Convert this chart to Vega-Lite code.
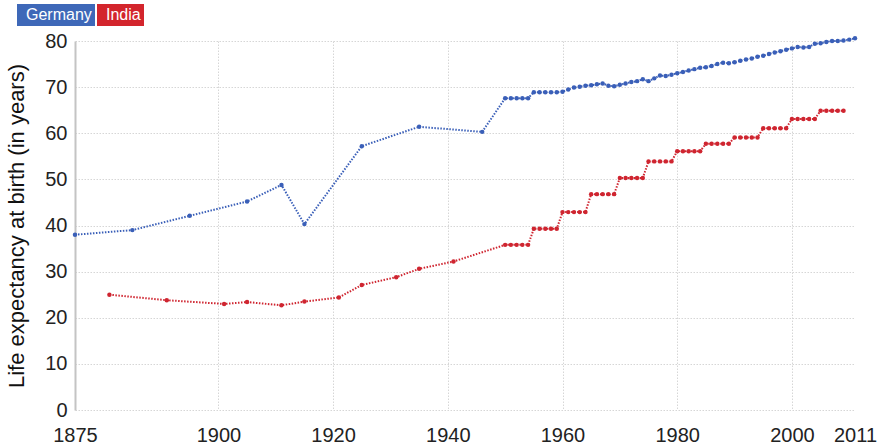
{
  "$schema": "https://vega.github.io/schema/vega-lite/v6.json",
  "width": 780,
  "height": 369,
  "autosize": {"type": "none"},
  "padding": {"left": 75, "top": 41, "right": 32, "bottom": 36},
  "background": "white",
  "config": {
    "view": {"stroke": null},
    "font": "Liberation Sans"
  },
  "data": {
    "values": [
      {"country": "Germany", "year": 1875, "le": 38.0},
      {"country": "Germany", "year": 1885, "le": 39.0},
      {"country": "Germany", "year": 1895, "le": 42.1},
      {"country": "Germany", "year": 1905, "le": 45.2},
      {"country": "Germany", "year": 1911, "le": 48.8},
      {"country": "Germany", "year": 1915, "le": 40.3},
      {"country": "Germany", "year": 1925, "le": 57.2},
      {"country": "Germany", "year": 1935, "le": 61.4},
      {"country": "Germany", "year": 1946, "le": 60.3},
      {"country": "Germany", "year": 1950, "le": 67.6},
      {"country": "Germany", "year": 1951, "le": 67.6},
      {"country": "Germany", "year": 1952, "le": 67.6},
      {"country": "Germany", "year": 1953, "le": 67.6},
      {"country": "Germany", "year": 1954, "le": 67.6},
      {"country": "Germany", "year": 1955, "le": 68.9},
      {"country": "Germany", "year": 1956, "le": 68.9},
      {"country": "Germany", "year": 1957, "le": 68.9},
      {"country": "Germany", "year": 1958, "le": 68.9},
      {"country": "Germany", "year": 1959, "le": 68.9},
      {"country": "Germany", "year": 1960, "le": 69.0},
      {"country": "Germany", "year": 1961, "le": 69.5},
      {"country": "Germany", "year": 1962, "le": 69.9},
      {"country": "Germany", "year": 1963, "le": 70.1},
      {"country": "Germany", "year": 1964, "le": 70.3},
      {"country": "Germany", "year": 1965, "le": 70.4},
      {"country": "Germany", "year": 1966, "le": 70.6},
      {"country": "Germany", "year": 1967, "le": 70.8},
      {"country": "Germany", "year": 1968, "le": 70.3},
      {"country": "Germany", "year": 1969, "le": 70.2},
      {"country": "Germany", "year": 1970, "le": 70.5},
      {"country": "Germany", "year": 1971, "le": 70.8},
      {"country": "Germany", "year": 1972, "le": 71.1},
      {"country": "Germany", "year": 1973, "le": 71.3},
      {"country": "Germany", "year": 1974, "le": 71.7},
      {"country": "Germany", "year": 1975, "le": 71.3},
      {"country": "Germany", "year": 1976, "le": 71.9},
      {"country": "Germany", "year": 1977, "le": 72.5},
      {"country": "Germany", "year": 1978, "le": 72.4},
      {"country": "Germany", "year": 1979, "le": 72.7},
      {"country": "Germany", "year": 1980, "le": 73.0},
      {"country": "Germany", "year": 1981, "le": 73.3},
      {"country": "Germany", "year": 1982, "le": 73.6},
      {"country": "Germany", "year": 1983, "le": 73.9},
      {"country": "Germany", "year": 1984, "le": 74.2},
      {"country": "Germany", "year": 1985, "le": 74.3},
      {"country": "Germany", "year": 1986, "le": 74.6},
      {"country": "Germany", "year": 1987, "le": 75.0},
      {"country": "Germany", "year": 1988, "le": 75.3},
      {"country": "Germany", "year": 1989, "le": 75.2},
      {"country": "Germany", "year": 1990, "le": 75.4},
      {"country": "Germany", "year": 1991, "le": 75.7},
      {"country": "Germany", "year": 1992, "le": 76.0},
      {"country": "Germany", "year": 1993, "le": 76.2},
      {"country": "Germany", "year": 1994, "le": 76.6},
      {"country": "Germany", "year": 1995, "le": 76.8},
      {"country": "Germany", "year": 1996, "le": 77.2},
      {"country": "Germany", "year": 1997, "le": 77.5},
      {"country": "Germany", "year": 1998, "le": 77.8},
      {"country": "Germany", "year": 1999, "le": 78.1},
      {"country": "Germany", "year": 2000, "le": 78.4},
      {"country": "Germany", "year": 2001, "le": 78.7},
      {"country": "Germany", "year": 2002, "le": 78.6},
      {"country": "Germany", "year": 2003, "le": 78.7},
      {"country": "Germany", "year": 2004, "le": 79.4},
      {"country": "Germany", "year": 2005, "le": 79.5},
      {"country": "Germany", "year": 2006, "le": 79.8},
      {"country": "Germany", "year": 2007, "le": 80.0},
      {"country": "Germany", "year": 2008, "le": 80.0},
      {"country": "Germany", "year": 2009, "le": 80.1},
      {"country": "Germany", "year": 2010, "le": 80.3},
      {"country": "Germany", "year": 2011, "le": 80.6},
      {"country": "India", "year": 1881, "le": 25.0},
      {"country": "India", "year": 1891, "le": 23.8},
      {"country": "India", "year": 1901, "le": 23.0},
      {"country": "India", "year": 1905, "le": 23.4},
      {"country": "India", "year": 1911, "le": 22.7},
      {"country": "India", "year": 1915, "le": 23.5},
      {"country": "India", "year": 1921, "le": 24.4},
      {"country": "India", "year": 1925, "le": 27.1},
      {"country": "India", "year": 1931, "le": 28.8},
      {"country": "India", "year": 1935, "le": 30.6},
      {"country": "India", "year": 1941, "le": 32.2},
      {"country": "India", "year": 1950, "le": 35.8},
      {"country": "India", "year": 1951, "le": 35.8},
      {"country": "India", "year": 1952, "le": 35.8},
      {"country": "India", "year": 1953, "le": 35.8},
      {"country": "India", "year": 1954, "le": 35.8},
      {"country": "India", "year": 1955, "le": 39.3},
      {"country": "India", "year": 1956, "le": 39.3},
      {"country": "India", "year": 1957, "le": 39.3},
      {"country": "India", "year": 1958, "le": 39.3},
      {"country": "India", "year": 1959, "le": 39.3},
      {"country": "India", "year": 1960, "le": 42.9},
      {"country": "India", "year": 1961, "le": 42.9},
      {"country": "India", "year": 1962, "le": 42.9},
      {"country": "India", "year": 1963, "le": 42.9},
      {"country": "India", "year": 1964, "le": 42.9},
      {"country": "India", "year": 1965, "le": 46.8},
      {"country": "India", "year": 1966, "le": 46.8},
      {"country": "India", "year": 1967, "le": 46.8},
      {"country": "India", "year": 1968, "le": 46.8},
      {"country": "India", "year": 1969, "le": 46.8},
      {"country": "India", "year": 1970, "le": 50.3},
      {"country": "India", "year": 1971, "le": 50.3},
      {"country": "India", "year": 1972, "le": 50.3},
      {"country": "India", "year": 1973, "le": 50.3},
      {"country": "India", "year": 1974, "le": 50.3},
      {"country": "India", "year": 1975, "le": 53.9},
      {"country": "India", "year": 1976, "le": 53.9},
      {"country": "India", "year": 1977, "le": 53.9},
      {"country": "India", "year": 1978, "le": 53.9},
      {"country": "India", "year": 1979, "le": 53.9},
      {"country": "India", "year": 1980, "le": 56.1},
      {"country": "India", "year": 1981, "le": 56.1},
      {"country": "India", "year": 1982, "le": 56.1},
      {"country": "India", "year": 1983, "le": 56.1},
      {"country": "India", "year": 1984, "le": 56.1},
      {"country": "India", "year": 1985, "le": 57.7},
      {"country": "India", "year": 1986, "le": 57.7},
      {"country": "India", "year": 1987, "le": 57.7},
      {"country": "India", "year": 1988, "le": 57.7},
      {"country": "India", "year": 1989, "le": 57.7},
      {"country": "India", "year": 1990, "le": 59.1},
      {"country": "India", "year": 1991, "le": 59.1},
      {"country": "India", "year": 1992, "le": 59.1},
      {"country": "India", "year": 1993, "le": 59.1},
      {"country": "India", "year": 1994, "le": 59.1},
      {"country": "India", "year": 1995, "le": 61.1},
      {"country": "India", "year": 1996, "le": 61.1},
      {"country": "India", "year": 1997, "le": 61.1},
      {"country": "India", "year": 1998, "le": 61.1},
      {"country": "India", "year": 1999, "le": 61.1},
      {"country": "India", "year": 2000, "le": 63.1},
      {"country": "India", "year": 2001, "le": 63.1},
      {"country": "India", "year": 2002, "le": 63.1},
      {"country": "India", "year": 2003, "le": 63.1},
      {"country": "India", "year": 2004, "le": 63.1},
      {"country": "India", "year": 2005, "le": 64.9},
      {"country": "India", "year": 2006, "le": 64.9},
      {"country": "India", "year": 2007, "le": 64.9},
      {"country": "India", "year": 2008, "le": 64.9},
      {"country": "India", "year": 2009, "le": 64.9}
    ]
  },
  "encoding": {
    "x": {
      "field": "year",
      "type": "quantitative",
      "scale": {"domain": [1875, 2011], "nice": false, "zero": false},
      "axis": {
        "title": null,
        "values": [1875, 1900, 1920, 1940, 1960, 1980, 2000, 2011],
        "format": "d",
        "domain": false,
        "ticks": false,
        "labelFontSize": 20,
        "labelColor": "#222222",
        "labelPadding": 15,
        "labelFlush": false,
        "grid": true,
        "gridColor": "#d6d6d6",
        "gridDash": [1.5, 1.5],
        "gridWidth": 1,
        "gridOpacity": {"condition": {"test": "datum.value == 2011 || datum.value == 1875", "value": 0}, "value": 1}
      }
    },
    "y": {
      "field": "le",
      "type": "quantitative",
      "scale": {"domain": [0, 80], "nice": false},
      "axis": {
        "title": "Life expectancy at birth (in years)",
        "titleFontSize": 22,
        "titleFontWeight": "normal",
        "titleColor": "#111111",
        "titlePadding": 16,
        "values": [0, 10, 20, 30, 40, 50, 60, 70, 80],
        "domain": true,
        "domainColor": "#c4c4c4",
        "domainWidth": 2,
        "ticks": false,
        "labelFontSize": 20,
        "labelColor": "#222222",
        "labelPadding": 8,
        "grid": true,
        "gridColor": "#d6d6d6",
        "gridDash": [1.5, 1.5],
        "gridWidth": 1
      }
    }
  },
  "layer": [
    {
      "mark": {"type": "line", "strokeWidth": 2, "strokeDash": [1.5, 1.5]},
      "encoding": {
        "stroke": {
          "field": "country",
          "type": "nominal",
          "scale": {"domain": ["Germany", "India"], "range": ["#3a5fb8", "#cf2530"]},
          "legend": {
            "values": ["Germany"],
            "orient": "none",
            "legendX": -58,
            "legendY": -37,
            "title": null,
            "fillColor": "#3e68b8",
            "padding": 3,
            "symbolType": "circle",
            "symbolSize": 1,
            "symbolOpacity": 0,
            "symbolStrokeWidth": 0,
            "labelOffset": -10,
            "labelFontSize": 16,
            "labelColor": "white",
            "labelExpr": "'\u00a0' + datum.label + '\u00a0'"
          }
        }
      }
    },
    {
      "mark": {"type": "point", "filled": true, "size": 20, "opacity": 1},
      "encoding": {
        "fill": {
          "field": "country",
          "type": "nominal",
          "scale": {"domain": ["India", "Germany"], "range": ["#cf2530", "#3a5fb8"]},
          "legend": {
            "values": ["India"],
            "orient": "none",
            "legendX": 22,
            "legendY": -37,
            "title": null,
            "fillColor": "#d3252c",
            "padding": 3,
            "symbolType": "circle",
            "symbolSize": 1,
            "symbolOpacity": 0,
            "symbolStrokeWidth": 0,
            "labelOffset": -10,
            "labelFontSize": 16,
            "labelColor": "white",
            "labelExpr": "'\u00a0' + datum.label + '\u00a0'"
          }
        }
      }
    }
  ]
}
